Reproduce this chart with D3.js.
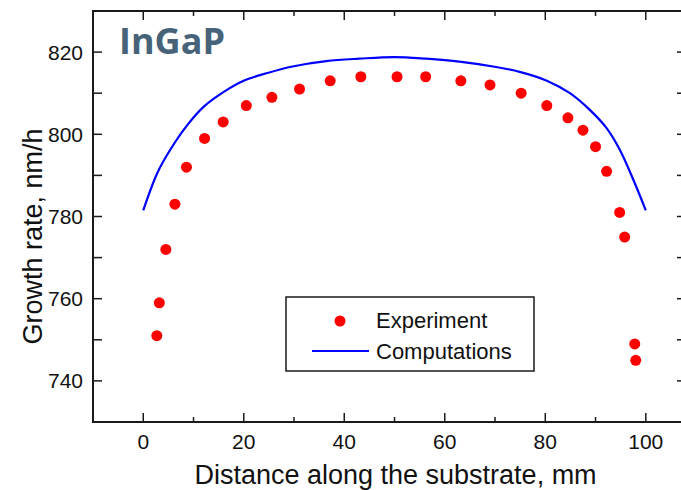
<!DOCTYPE html>
<html>
<head>
<meta charset="utf-8">
<script src="https://cdn.jsdelivr.net/npm/d3@7"></script>
<style>
  html, body { margin: 0; padding: 0; background: #fff; }
  svg { display: block; }
</style>
</head>
<body>
<svg id="chart" width="681" height="490"></svg>
<script>
// Measured growth rate of InGaP along the substrate
const expX = [2.7, 3.2, 4.5, 6.3, 8.6, 12.2, 15.9, 20.5, 25.6, 31.1, 37.2, 43.3, 50.5, 56.2, 63.2, 69.0, 75.2, 80.3, 84.5, 87.5, 90.0, 92.2, 94.8, 95.8, 97.8, 98.0];
const expY = [751, 759, 772, 783, 792, 799, 803, 807, 809, 811, 813, 814, 814, 814, 813, 812, 810, 807, 804, 801, 797, 791, 781, 775, 749, 745];

// Computed growth rate profile
const calcX = [0, 2.8, 5.4, 8.8, 12.1, 16.1, 20.1, 24.7, 29.7, 36.4, 43.0, 50.0, 56.3, 62.9, 69.6, 74.9, 80.2, 84.9, 88.8, 92.2, 94.8, 97.5, 100];
const calcY = [781.5, 790.6, 796.3, 802.3, 806.8, 810.4, 813.1, 814.9, 816.5, 817.8, 818.4, 818.8, 818.4, 817.7, 816.5, 815.2, 813.1, 810.0, 806.0, 801.5, 796.3, 789.0, 781.5];

const xTicks = [0, 20, 40, 60, 80, 100];
const yTicks = [740, 760, 780, 800, 820];

const svg = d3.select("#chart");
const plotL = 93, plotT = 11, plotB = 422, plotR = 686;

const x = d3.scaleLinear().domain([-10, 108]).range([plotL, plotR]);
const y = d3.scaleLinear().domain([730, 830]).range([plotB, plotT]);

const font = "'Liberation Sans', Arial, sans-serif";
const axisColor = "#1a1a1a";

// Tick marks pointing inward on all sides
const xMinor = d3.range(-10, 109, 10);
const yAll = d3.range(730, 831, 10);
const tickG = svg.append("g").attr("stroke", axisColor).attr("stroke-width", 1.5);
xMinor.forEach(v => {
  const len = (v % 20 === 0) ? 9 : 5;
  tickG.append("line").attr("x1", x(v)).attr("x2", x(v)).attr("y1", plotB).attr("y2", plotB - len);
  tickG.append("line").attr("x1", x(v)).attr("x2", x(v)).attr("y1", plotT).attr("y2", plotT + len);
});
yAll.forEach(v => {
  tickG.append("line").attr("x1", plotL).attr("x2", plotL + 9).attr("y1", y(v)).attr("y2", y(v));
  tickG.append("line").attr("x1", plotR).attr("x2", plotR - 9).attr("y1", y(v)).attr("y2", y(v));
});

// Frame
svg.append("rect")
  .attr("x", plotL).attr("y", plotT)
  .attr("width", plotR - plotL).attr("height", plotB - plotT)
  .attr("fill", "none").attr("stroke", axisColor).attr("stroke-width", 2);

// Tick labels
svg.append("g").selectAll("text").data(xTicks).join("text")
  .attr("x", d => x(d)).attr("y", 449)
  .attr("text-anchor", "middle")
  .attr("font-family", font).attr("font-size", 21).attr("fill", "#111")
  .text(d => d);

svg.append("g").selectAll("text").data(yTicks).join("text")
  .attr("x", 83).attr("y", d => y(d) + 7.5)
  .attr("text-anchor", "end")
  .attr("font-family", font).attr("font-size", 21).attr("fill", "#111")
  .text(d => d);

// Axis titles
svg.append("text")
  .attr("x", (x(0) + x(100)) / 2 + 1).attr("y", 484)
  .attr("text-anchor", "middle")
  .attr("font-family", font).attr("font-size", 27).attr("fill", "#111")
  .text("Distance along the substrate, mm");

svg.append("text")
  .attr("transform", `translate(42, ${(plotT + plotB) / 2 + 20}) rotate(-90)`)
  .attr("text-anchor", "middle")
  .attr("font-family", font).attr("font-size", 27).attr("fill", "#111")
  .text("Growth rate, nm/h");

// Computed curve
const line = d3.line()
  .x((d, i) => x(calcX[i]))
  .y(d => y(d))
  .curve(d3.curveCatmullRom.alpha(0.5));
svg.append("path")
  .attr("d", line(calcY))
  .attr("fill", "none").attr("stroke", "#0000ff").attr("stroke-width", 2.2);

// Experimental points
svg.append("g").selectAll("circle").data(expY).join("circle")
  .attr("cx", (d, i) => x(expX[i]))
  .attr("cy", d => y(d))
  .attr("r", 5.5)
  .attr("fill", "#ff0000");

// Material label
svg.append("text")
  .attr("x", 119).attr("y", 54)
  .attr("font-family", "'Open Sans', sans-serif").attr("font-weight", "bold")
  .attr("font-size", 36).attr("fill", "#47637a")
  .text("InGaP");

// Legend
const lg = svg.append("g");
lg.append("rect")
  .attr("x", 286).attr("y", 297).attr("width", 248).attr("height", 74)
  .attr("fill", "#fff").attr("stroke", axisColor).attr("stroke-width", 1.5);
lg.append("circle").attr("cx", 340).attr("cy", 321).attr("r", 5.5).attr("fill", "#ff0000");
lg.append("line").attr("x1", 312).attr("x2", 369).attr("y1", 351).attr("y2", 351)
  .attr("stroke", "#0000ff").attr("stroke-width", 2.2);
lg.append("text").attr("x", 376).attr("y", 328)
  .attr("font-family", font).attr("font-size", 22).attr("fill", "#111").text("Experiment");
lg.append("text").attr("x", 376).attr("y", 359)
  .attr("font-family", font).attr("font-size", 22).attr("fill", "#111").text("Computations");
</script>
</body>
</html>
